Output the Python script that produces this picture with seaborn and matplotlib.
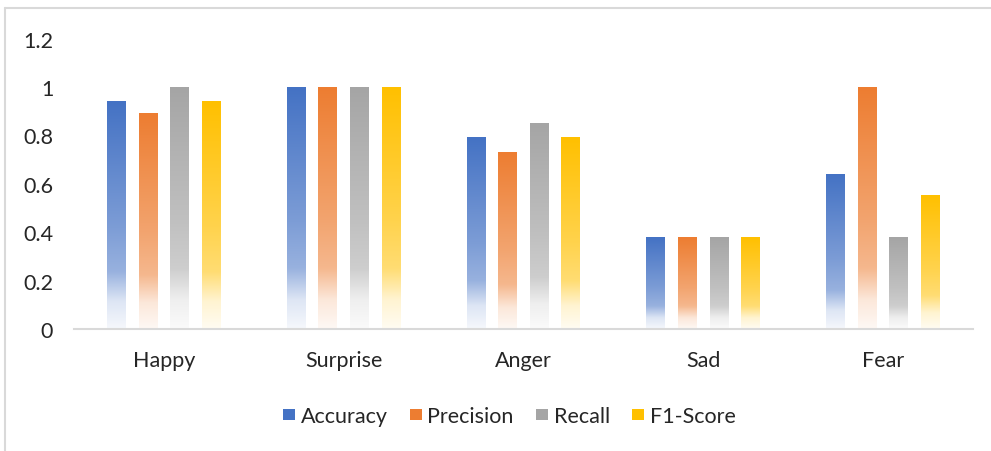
import numpy as np
import pandas as pd
import matplotlib
matplotlib.use("Agg")
import matplotlib.pyplot as plt
import seaborn as sns
from matplotlib.colors import to_rgb
from matplotlib.lines import Line2D
from matplotlib.patches import Patch

emotions = ["Happy", "Surprise", "Anger", "Sad", "Fear"]
metrics = ["Accuracy", "Precision", "Recall", "F1-Score"]
accuracy = [0.94, 1.00, 0.79, 0.38, 0.64]
precision = [0.89, 1.00, 0.73, 0.38, 1.00]
recall = [1.00, 1.00, 0.85, 0.38, 0.38]
f1_score = [0.94, 1.00, 0.79, 0.38, 0.55]
y_ticks = [0, 0.2, 0.4, 0.6, 0.8, 1, 1.2]
y_tick_labels = ["0", "0.2", "0.4", "0.6", "0.8", "1", "1.2"]

colors = ["#4472C4", "#ED7D31", "#A5A5A5", "#FFC000"]

df = pd.DataFrame({
    "Emotion": np.repeat(emotions, 4),
    "Metric": metrics * len(emotions),
    "Value": np.ravel(np.column_stack([accuracy, precision, recall, f1_score])),
})

sns.set_theme(style="white")
plt.rcParams["font.family"] = ["Lato", "DejaVu Sans"]

fig = plt.figure(figsize=(9.91, 4.52), dpi=100)
ax = fig.add_axes([0.0747, 0.270, 0.9071, 0.6424])

sns.barplot(data=df, x="Emotion", y="Value", hue="Metric", order=emotions,
            hue_order=metrics, palette=colors, width=0.704, gap=0.4,
            legend=False, ax=ax, errorbar=None, saturation=1)

# white-blend amount as a function of depth from the bar top (0) to its base (1)
stops_t = np.array([0.0, 0.55, 0.75, 0.88, 1.0])
stops_w = np.array([0.0, 0.30, 0.45, 0.82, 0.95])

def gradient_image(color, n=200):
    c = np.array(to_rgb(color))
    t = np.linspace(0, 1, n)
    w = np.interp(t, stops_t, stops_w)[:, None]
    rgb = c[None, :] * (1 - w) + w
    return rgb[:, None, :]

# hue-major ordering of the bar patches
bars = list(ax.patches)
for i, patch in enumerate(bars):
    color = colors[i // len(emotions)]
    x0, y0 = patch.get_x(), patch.get_y()
    w, h = patch.get_width(), patch.get_height()
    patch.set_visible(False)
    ax.imshow(gradient_image(color), extent=[x0, x0 + w, y0, y0 + h],
              aspect="auto", origin="upper", zorder=2, interpolation="bilinear")

ax.set_xlim(-0.5, len(emotions) - 0.5)
ax.set_ylim(0, 1.2)
ax.set_yticks(y_ticks)
ax.set_yticklabels(y_tick_labels)
ax.set_xlabel("")
ax.set_ylabel("")
for s in ["top", "right", "left"]:
    ax.spines[s].set_visible(False)
ax.spines["bottom"].set_color("#D9D9D9")
ax.spines["bottom"].set_linewidth(1.5)
ax.tick_params(axis="y", length=0, pad=15, labelsize=15.5, labelcolor="#262626")
ax.tick_params(axis="x", length=0, pad=15, labelsize=15.5, labelcolor="#262626")
ax.grid(False)

handles = [Patch(facecolor=c, edgecolor="none") for c in colors]
fig.legend(handles, metrics, loc="center", bbox_to_anchor=(0.514, 0.077),
           ncol=4, frameon=False, fontsize=15.5, handlelength=0.55,
           handleheight=0.45, handletextpad=0.25, columnspacing=1.05,
           labelcolor="#262626")

# light frame edges along the top and left of the canvas
fig.add_artist(Line2D([5 / 991, 5 / 991], [0, 1 - 9 / 452], transform=fig.transFigure,
                      color="#D9D9D9", lw=1.5))
fig.add_artist(Line2D([5 / 991, 1], [1 - 9 / 452, 1 - 9 / 452], transform=fig.transFigure,
                      color="#D9D9D9", lw=1.5))

fig.savefig("out.png", dpi=100, facecolor="white")
